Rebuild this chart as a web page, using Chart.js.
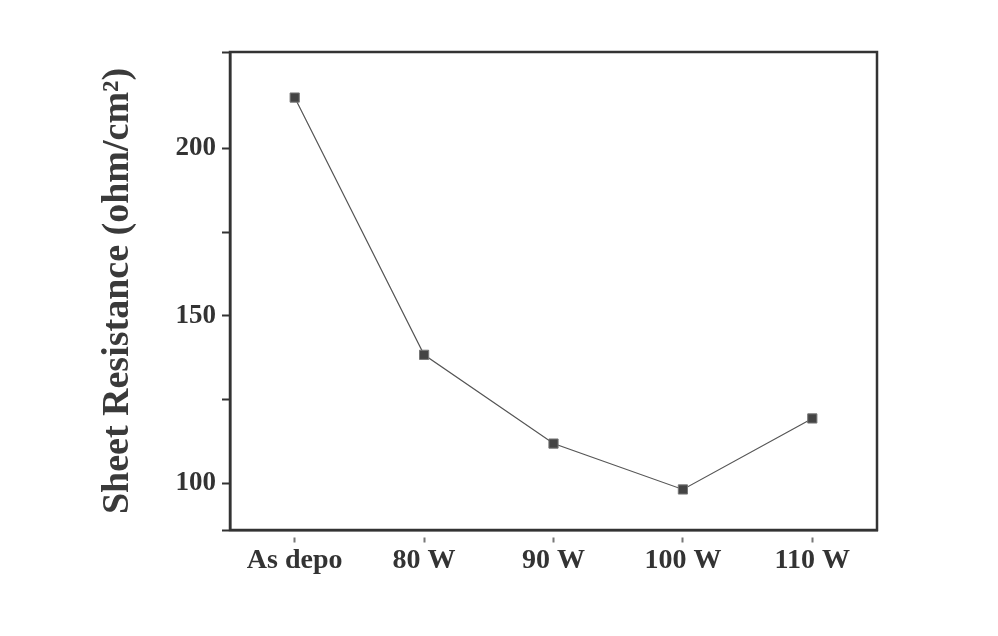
<!DOCTYPE html>
<html>
<head>
<meta charset="utf-8">
<script src="https://cdn.jsdelivr.net/npm/chart.js@4.4.1/dist/chart.umd.min.js"></script>
<style>
  html, body { margin: 0; padding: 0; background: #fff; }
  #wrap { width: 998px; height: 636px; }
</style>
</head>
<body>
<div id="wrap"><canvas id="chart" width="998" height="636"></canvas></div>
<script>
// ── data ──
const categories = ['As depo', '80 W', '90 W', '100 W', '110 W'];
const sheetResistance = [215.2, 138.4, 111.9, 98.2, 119.4];
const yTickLabels = [100, 150, 200];

const INK = '#333333';
const SERIF = '"Liberation Serif", "Times New Roman", serif';

// frame round the plot area (top + right sides)
const framePlugin = {
  id: 'frame',
  afterDraw(chart) {
    const { ctx, chartArea: a } = chart;
    ctx.save();
    ctx.strokeStyle = INK;
    ctx.lineWidth = 2.5;
    ctx.strokeRect(a.left, a.top, a.right - a.left, a.bottom - a.top);
    ctx.restore();
  }
};

new Chart(document.getElementById('chart'), {
  type: 'line',
  data: {
    labels: categories,
    datasets: [{
      data: sheetResistance,
      borderColor: '#555555',
      borderWidth: 1.2,
      pointStyle: 'rect',
      pointRadius: 6.5,
      pointBackgroundColor: '#444444',
      pointBorderColor: '#777777',
      pointBorderWidth: 1,
      tension: 0
    }]
  },
  options: {
    responsive: false,
    animation: false,
    layout: { padding: { left: 95, right: 121, top: 52, bottom: 40 } },
    plugins: { legend: { display: false }, tooltip: { enabled: false } },
    scales: {
      x: {
        type: 'category',
        offset: true,
        grid: {
          offset: false,
          drawOnChartArea: false,
          tickLength: 13,
          tickColor: '#777777',
          tickWidth: 2,
          tickBorderDash: [0, 6, 5, 40]
        },
        border: { color: INK, width: 2.5 },
        ticks: {
          color: INK,
          padding: 1,
          font: { family: SERIF, size: 28, weight: 'bold' }
        },
        afterFit(s) { s.height = 66; }
      },
      y: {
        min: 86.1,
        max: 228.8,
        grid: {
          drawOnChartArea: false,
          tickLength: 8,
          tickColor: INK,
          tickWidth: 2
        },
        border: { color: INK, width: 2.5 },
        ticks: {
          stepSize: 25,
          autoSkip: false,
          color: INK,
          padding: 6,
          font: { family: SERIF, size: 27, weight: 'bold' },
          callback: v => yTickLabels.includes(v) ? String(v) : ''
        },
        title: {
          display: true,
          text: 'Sheet Resistance (ohm/cm²)',
          color: '#3a3a3a',
          font: { family: SERIF, size: 38, weight: 'bold' },
          padding: { top: 0, bottom: 0 }
        },
        afterFit(s) { s.width = 135; }
      }
    }
  },
  plugins: [framePlugin]
});
</script>
</body>
</html>
